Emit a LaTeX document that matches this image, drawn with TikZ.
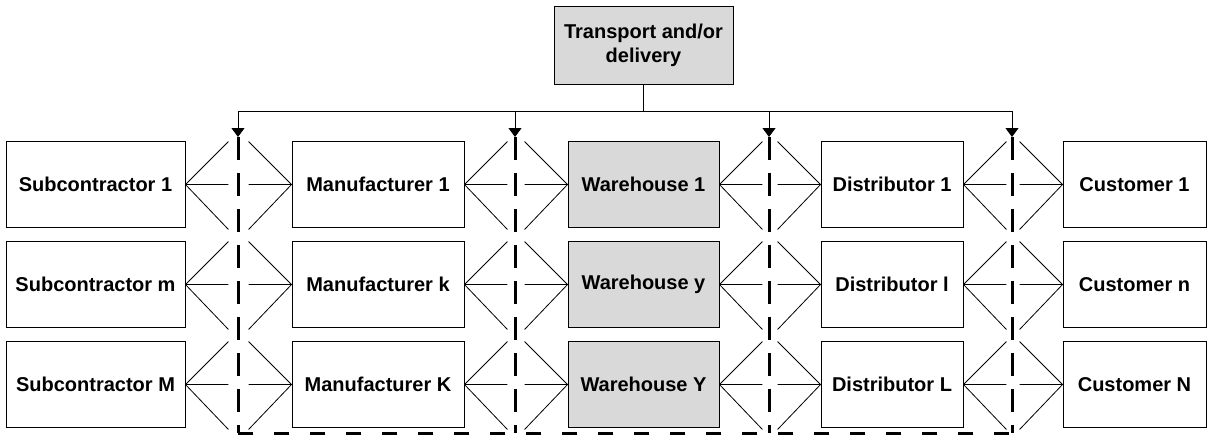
\documentclass[tikz,border=0pt]{standalone}
\usepackage{fontspec}
\setmainfont{Liberation Sans}
\usetikzlibrary{arrows.meta}
\definecolor{boxgray}{RGB}{217,217,217}
\begin{document}
\begin{tikzpicture}[x=1pt,y=-1pt,
  every node/.style={font=\fontsize{20}{24}\selectfont\bfseries},
  unit/.style={draw=black,line width=0.9pt,fill=white,inner sep=0pt,minimum height=86pt,align=center},
  shaded/.style={unit,fill=boxgray},
  fan/.style={line width=0.8pt},
  wire/.style={line width=0.9pt},
  feed/.style={line width=0.9pt,-{Triangle[width=13pt,length=9pt]}},
  boundv/.style={line width=3pt,dash pattern=on 23pt off 13pt},
  boundh/.style={line width=3pt,dash pattern=on 15pt off 21pt}]
\useasboundingbox (0,0) rectangle (1207,437);

% transport box
\node[shaded,minimum width=179pt,minimum height=78pt] (tr) at (643.5,45) {Transport and/or\\delivery};

% the five columns of the chain
\foreach \r/\y/\ls/\lm/\lw/\ld/\lc in {
  1/184.5/1/1/1/1/1,
  2/284.5/m/k/y/l/n,
  3/384.5/M/K/Y/L/N}{
  \node[unit,minimum width=179pt] (s\r) at (95.5,\y) {Subcontractor \ls};
  \node[unit,minimum width=172pt] (m\r) at (378,\y) {Manufacturer \lm};
  \node[shaded,minimum width=151pt] (w\r) at (643.5,\y) {Warehouse \lw};
  \node[unit,minimum width=142pt] (d\r) at (892,\y) {Distributor \ld};
  \node[unit,minimum width=143pt] (c\r) at (1134.5,\y) {Customer \lc};
}

% many-to-many fans between neighbouring columns
\foreach \a/\b in {s/m, m/w, w/d, d/c}{
  \foreach \r in {1,2,3}{
    \draw[fan] (\a\r.east) -- ++(43,-43) (\a\r.east) -- ++(43,0) (\a\r.east) -- ++(43,45);
    \draw[fan] (\b\r.west) -- ++(-43,-43) (\b\r.west) -- ++(-43,0) (\b\r.west) -- ++(-43,45);
  }
}

% transport feeds and boundaries
\foreach \x/\n in {238/1, 515/2, 769/3, 1012/4}{
  \coordinate (top\n) at (\x,111);
  \coordinate (tip\n) at (\x,137);
  \coordinate (bot\n) at (\x,433);
}
\draw[wire] (tr.south) -- (tr.south |- top1);
\draw[wire] (top1) -- (top4);
\foreach \n in {1,2,3,4}{
  \draw[feed] (top\n) -- (tip\n);
  \draw[boundv] (tip\n) -- (bot\n);
}
\draw[boundh] (bot1) -- (bot4);
\end{tikzpicture}
\end{document}
